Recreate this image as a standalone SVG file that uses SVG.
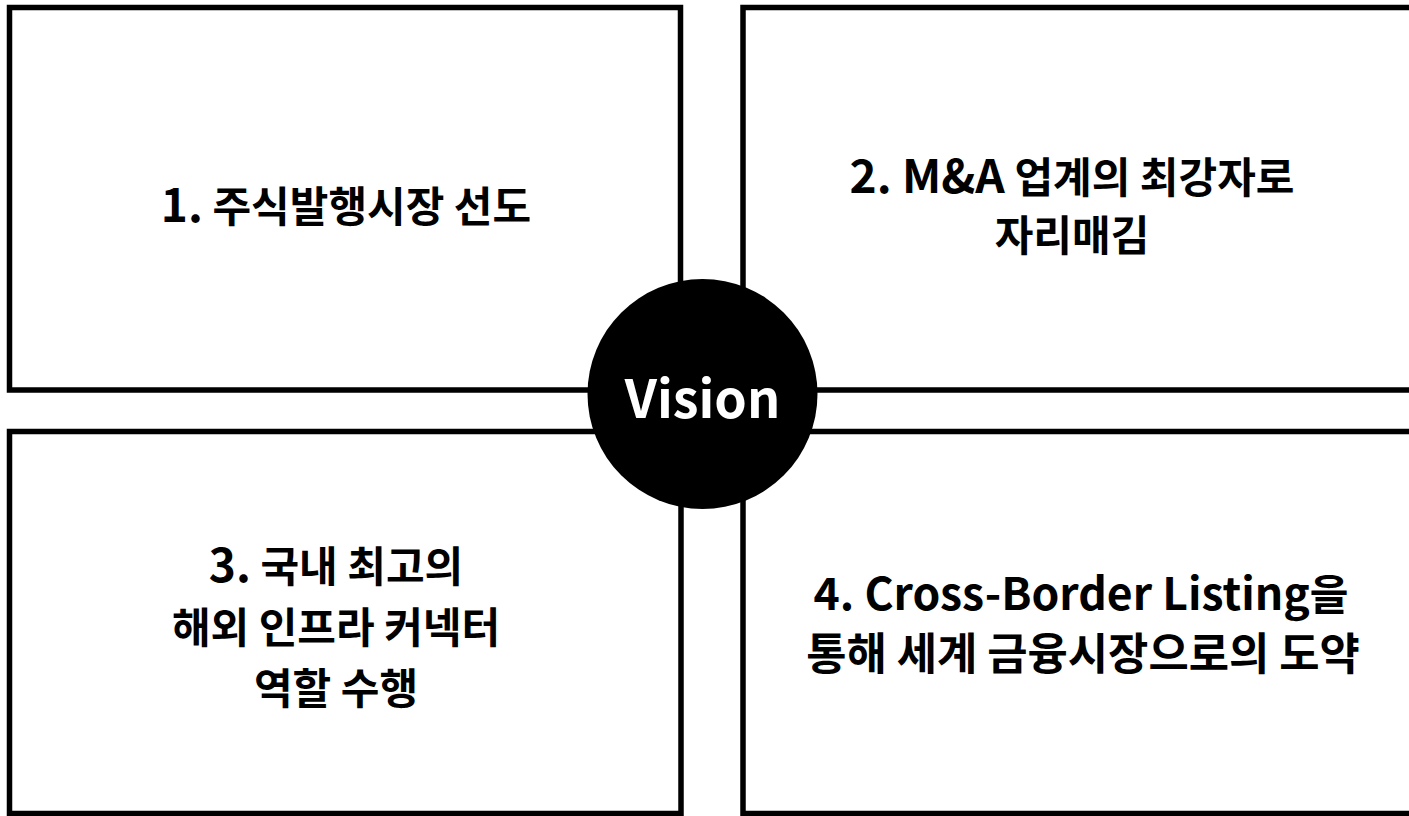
<svg xmlns="http://www.w3.org/2000/svg" width="1409" height="816" viewBox="0 0 1409 816">
<style>
.box{fill:#fff;stroke:#000;stroke-width:5.5}
.t{font-family:"Noto Sans CJK KR","Noto Sans",sans-serif;font-weight:700;font-size:42px;fill:#000;text-anchor:middle}
.l{font-size:46px}
.v{font-family:"Noto Sans CJK KR","Noto Sans",sans-serif;font-weight:700;font-size:52px;fill:#fff;text-anchor:middle}
</style>
<rect width="1409" height="816" fill="#fff"/>
<g id="node1"><rect class="box" x="9.5" y="7.5" width="671" height="382.5"/><text class="t" x="346" y="222"><tspan class="l">1.</tspan> 주식발행시장 선도</text></g>
<g id="node2"><rect class="box" x="743" y="7.5" width="680" height="382.5"/><text class="t" x="1072" y="193"><tspan class="l">2. M&amp;A</tspan> 업계의 최강자로</text><text class="t" x="1072" y="251">자리매김</text></g>
<g id="node3"><rect class="box" x="9.5" y="431.5" width="671.5" height="382"/><text class="t" x="336" y="582"><tspan class="l">3.</tspan> 국내 최고의</text><text class="t" x="336" y="643">해외 인프라 커넥터</text><text class="t" x="336" y="704">역할 수행</text></g>
<g id="node4"><rect class="box" x="743" y="431.5" width="680" height="382"/><text class="t" x="1081" y="610"><tspan style="font-size:44.5px">4. Cross-Border Listing</tspan>을</text><text class="t" x="1083" y="670" style="font-size:43.8px">통해 세계 금융시장으로의 도약</text></g>
<g id="connectors"></g>
<g id="vision"><circle cx="702.5" cy="394" r="115" fill="#000"/><text class="v" x="702.5" y="418">Vision</text></g>
</svg>
